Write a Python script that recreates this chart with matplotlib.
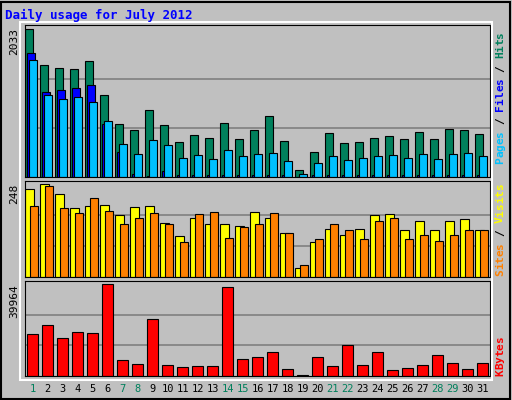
import matplotlib
matplotlib.use('Agg')
import matplotlib.pyplot as plt
from matplotlib.patches import Rectangle
import numpy as np

#data
days = list(range(1, 32))
weekend = [1, 7, 8, 14, 15, 21, 22, 28, 29]
hits = [2033, 1549, 1507, 1494, 1604, 1134, 733, 650, 927, 719, 484, 581, 539, 747, 525, 650,
        844, 498, 97, 346, 608, 470, 484, 539, 567, 525, 622, 525, 664, 650, 595]
files = [1715, 1175, 1203, 1231, 1272, 733, 346, 41, 20, 83, 30, 30, 30, 30, 30, 30,
         30, 30, 5, 30, 30, 30, 30, 30, 30, 30, 30, 30, 30, 30, 30]
pages = [1618, 1134, 1079, 1106, 1037, 774, 456, 318, 512, 443, 263, 304, 249, 373, 290, 318,
         332, 221, 41, 194, 290, 235, 263, 290, 304, 263, 318, 249, 318, 332, 290]
visits = [234, 248, 220, 183, 188, 191, 164, 185, 188, 145, 110, 156, 140, 140, 137, 172,
          158, 116, 24, 94, 129, 113, 129, 164, 167, 126, 148, 126, 148, 153, 126]
sites = [188, 242, 183, 169, 210, 175, 142, 156, 169, 140, 94, 167, 172, 105, 132, 142,
         169, 118, 32, 102, 142, 124, 102, 148, 158, 102, 113, 97, 113, 124, 124]
kbytes = [18000, 21960, 16250, 18880, 18440, 39964, 7030, 5270, 24590, 4830, 3950, 4390, 4390,
          38650, 7470, 8340, 10540, 3070, 400, 8340, 4390, 13610, 4830, 10540, 2630, 3510,
          4830, 9220, 5710, 3070, 5710]

W, H = 512, 400
fig = plt.figure(figsize=(W / 100, H / 100), dpi=100)
fig.patch.set_facecolor('#c0c0c0')
mono = 'DejaVu Sans Mono'

def px_axes(x0, y0, x1, y1):
    return fig.add_axes([x0 / W, 1 - y1 / H, (x1 - x0) / W, (y1 - y0) / H])

# outer bevel
fig.add_artist(Rectangle((1 / W, 1 / H), (W - 3) / W, (H - 3) / H, transform=fig.transFigure,
                         fill=False, ec='black', lw=1.5))
fig.add_artist(Rectangle((20 / W, 1 - 380 / H), 472 / W, 358 / H, transform=fig.transFigure,
                         fill=False, ec='white', lw=1.5))

fig.text(5 / W, 1 - 15 / H, 'Daily usage for July 2012', color='#0000ff', family=mono,
         weight='bold', fontsize=9, va='center')

d = np.array(days)

def setup(ax, top):
    ax.set_facecolor('#c0c0c0')
    ax.set_xlim(0.5, 31.5)
    ax.set_ylim(0, top * 1.03)
    for f in (1 / 3, 2 / 3):
        ax.axhline(top * f, color='#808080', lw=1.2, zorder=0)
    ax.set_xticks([])
    ax.set_yticks([])
    for s in ax.spines.values():
        s.set_color('black')

CH = 6.6  # pixel advance per character of the side labels

def side_labels(pieces, y_bottom):
    y = y_bottom
    for txt, col in pieces:
        for ch in txt:
            if ch != ' ':
                fig.text(500 / W, 1 - y / H, ch, color=col, family=mono, weight='bold',
                         fontsize=8, rotation=90, ha='center', va='bottom')
            y -= CH

def max_label(val, y_top):
    fig.text(14 / W, 1 - y_top / H, str(val), family=mono, fontsize=8, rotation=90,
             ha='center', va='top')

kw = dict(align='edge', edgecolor='black', linewidth=0.8)

ax1 = px_axes(25, 25, 490, 177)
setup(ax1, max(hits))
ax1.bar(d - 0.48, hits, 0.49, color='#00805c', **kw)
ax1.bar(d - 0.35, files, 0.5, color='#0000ff', **kw)
ax1.bar(d - 0.21, pages, 0.49, color='#00c0ff', **kw)
max_label(max(hits), 28)
side_labels([('Pages', '#00c0ff'), (' / ', 'black'), ('Files', '#0000ff'),
             (' / ', 'black'), ('Hits', '#00805c')], 164)

ax2 = px_axes(25, 181, 490, 277)
setup(ax2, max(visits))
ax2.bar(d - 0.48, visits, 0.55, color='#ffff00', **kw)
ax2.bar(d - 0.2, sites, 0.55, color='#ff8000', **kw)
max_label(max(visits), 184)
side_labels([('Sites', '#ff8000'), (' / ', 'black'), ('Visits', '#ffff00')], 276)

ax3 = px_axes(25, 281, 490, 376)
setup(ax3, max(kbytes))
ax3.bar(d - 0.35, kbytes, 0.7, color='#ff0000', **kw)
max_label(max(kbytes), 284)
side_labels([('KBytes', '#ff0000')], 376)

for day in days:
    x = 25 + (day - 0.5) * 15
    fig.text(x / W, 1 - 389 / H, str(day), family=mono, fontsize=7.5, ha='center', va='center',
             color='#00805c' if day in weekend else 'black')

fig.savefig('out.png', dpi=100, facecolor=fig.get_facecolor())
